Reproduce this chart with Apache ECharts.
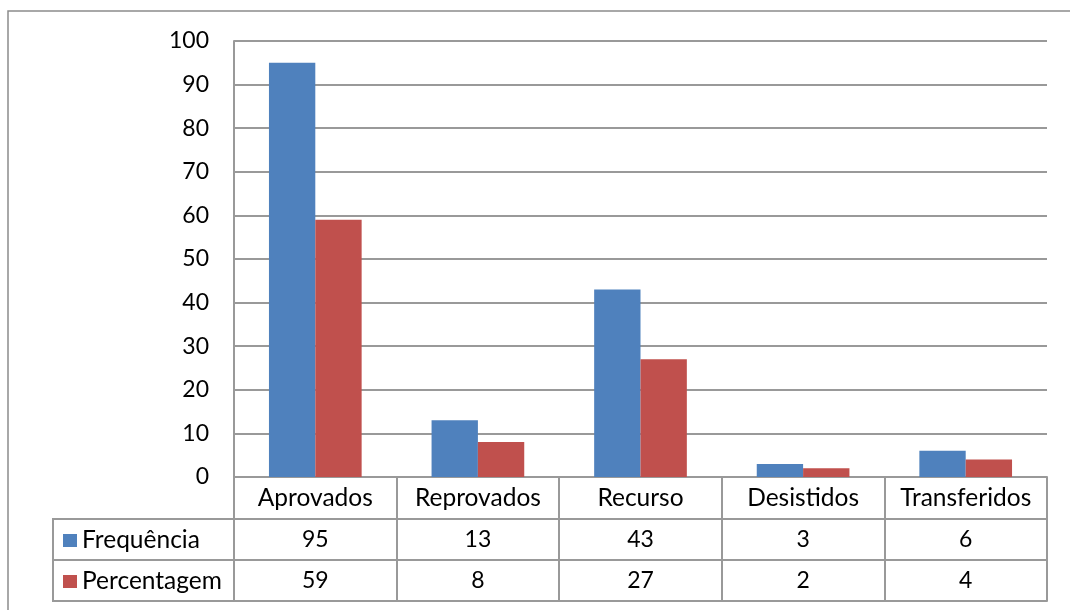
<!DOCTYPE html>
<html>
<head>
<meta charset="utf-8">
<script src="https://cdn.jsdelivr.net/npm/echarts@6/dist/echarts.min.js"></script>
<style>
  html, body { margin: 0; padding: 0; background: #fff; }
  #chart { width: 1070px; height: 610px; }
</style>
</head>
<body>
<div id="chart"></div>
<script>
var categorias = ['Aprovados', 'Reprovados', 'Recurso', 'Desistidos', 'Transferidos'];
var frequencia = [95, 13, 43, 3, 6];
var percentagem = [59, 8, 27, 2, 4];
var yTicks = [0, 10, 20, 30, 40, 50, 60, 70, 80, 90, 100];

var font = 'Lato';
var gray = '#999';

$ready();

function $ready() {
    var chart = echarts.init(document.getElementById('chart'));

    // extra x axes used as the rows of the data table under the plot
    function rowAxis(offset, values) {
        return {
            type: 'category',
            data: categorias,
            position: 'bottom',
            offset: offset,
            axisLine: { show: true, lineStyle: { color: gray, width: 2 } },
            axisTick: { show: false },
            axisLabel: {
                show: !!values,
                margin: 20.5,
                verticalAlign: 'middle',
                fontFamily: font,
                fontSize: 23,
                color: '#000',
                interval: 0,
                formatter: function (v, i) { return values ? String(values[i]) : ''; }
            }
        };
    }

    var option = {
        animation: false,
        color: ['#4F81BD', '#C0504D'],
        grid: { left: 234, right: 23, top: 41, bottom: 133 },
        legend: {
            data: ['Frequência', 'Percentagem'],
            orient: 'vertical',
            left: 63,
            top: 528,
            padding: 0,
            itemWidth: 14,
            itemHeight: 13,
            itemGap: 16,
            icon: 'rect',
            textStyle: { fontFamily: font, fontSize: 24.5, color: '#000', lineHeight: 23 }
        },
        xAxis: [
            {
                type: 'category',
                data: categorias,
                axisLine: { lineStyle: { color: gray, width: 2 } },
                axisTick: { show: true, length: 124, lineStyle: { color: gray, width: 2 } },
                axisLabel: {
                    margin: 21,
                    verticalAlign: 'middle',
                    fontFamily: font,
                    fontSize: 24.5,
                    color: '#000',
                    interval: 0
                }
            },
            rowAxis(42, frequencia),
            rowAxis(83, percentagem),
            rowAxis(124, null)
        ],
        yAxis: {
            type: 'value',
            min: yTicks[0],
            max: yTicks[yTicks.length - 1],
            interval: 10,
            axisLine: { show: true, lineStyle: { color: gray, width: 2 } },
            axisTick: { show: false },
            splitLine: { lineStyle: { color: gray, width: 2 } },
            axisLabel: { margin: 25, fontFamily: font, fontSize: 23, color: '#000' }
        },
        series: [
            {
                name: 'Frequência',
                type: 'bar',
                data: frequencia,
                barGap: '0%',
                barCategoryGap: '43%'
            },
            {
                name: 'Percentagem',
                type: 'bar',
                data: percentagem
            }
        ],
        graphic: [
            // outer chart border
            { type: 'rect', shape: { x: 8, y: 11, width: 1100, height: 700 },
              style: { fill: 'none', stroke: '#8c8c8c', lineWidth: 1.5 }, silent: true },
            // legend column of the data table
            { type: 'line', shape: { x1: 53, y1: 519, x2: 234, y2: 519 }, style: { stroke: gray, lineWidth: 2 } },
            { type: 'line', shape: { x1: 53, y1: 560, x2: 234, y2: 560 }, style: { stroke: gray, lineWidth: 2 } },
            { type: 'line', shape: { x1: 53, y1: 601, x2: 234, y2: 601 }, style: { stroke: gray, lineWidth: 2 } },
            { type: 'line', shape: { x1: 53, y1: 518, x2: 53, y2: 602 }, style: { stroke: gray, lineWidth: 2 } }
        ]
    };

    chart.setOption(option);
}
</script>
</body>
</html>
